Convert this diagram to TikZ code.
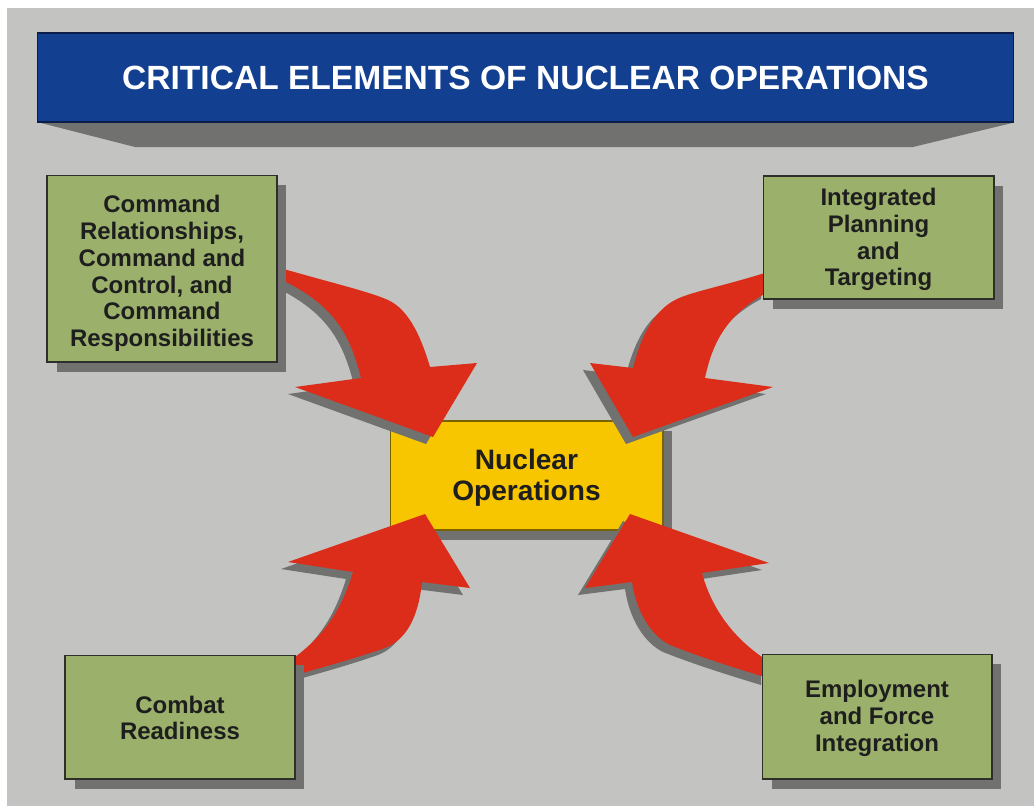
\documentclass[tikz,border=0pt]{standalone}
\usepackage{fontspec}
\setmainfont{Liberation Sans}
\usetikzlibrary{shadows}
\definecolor{bgc}{HTML}{C3C3C1}
\definecolor{titlec}{HTML}{123F8F}
\definecolor{titleline}{HTML}{0B1E4A}
\definecolor{shd}{HTML}{717170}
\definecolor{boxg}{HTML}{9AB06B}
\definecolor{boxline}{HTML}{2E2E2A}
\definecolor{yel}{HTML}{F8C600}
\definecolor{yelline}{HTML}{7A6200}
\definecolor{redc}{HTML}{DB2D1A}
\definecolor{txt}{HTML}{1E1E1E}
\newcommand\arrTL[1]{\fill[#1] (280,268) .. controls (340,285) and (370,292) .. (388,300) .. controls (410,310) and (422,340) .. (430,367) -- (477,363) -- (433,437) -- (295,387) -- (361,378) .. controls (350,335) and (335,305) .. (280,279) -- cycle;}
\newcommand\arrTR[1]{\fill[#1] (768,272) .. controls (720,287) and (690,292) .. (675,300) .. controls (652,312) and (640,340) .. (633,368) -- (590,363) -- (633,437) -- (773,387) -- (705,378) .. controls (712,345) and (725,315) .. (768,292) -- cycle;}
\newcommand\arrBL[1]{\fill[#1] (288,662) .. controls (320,640) and (340,615) .. (353,572) -- (288,562) -- (425,514) -- (470,588) -- (422,582) .. controls (418,620) and (405,640) .. (385,648) .. controls (350,660) and (320,668) .. (288,677) -- cycle;}
\newcommand\arrBR[1]{\fill[#1] (768,661) .. controls (735,640) and (712,610) .. (702,573) -- (769,563) -- (630,514) -- (585,588) -- (632,582) .. controls (636,610) and (650,635) .. (670,645) .. controls (700,657) and (735,668) .. (768,678) -- cycle;}
\begin{document}
\begin{tikzpicture}[x=0.02cm,y=-0.02cm,
  boxshadow/.style={drop shadow={shadow xshift=0.19cm,shadow yshift=-0.2cm,fill=shd,opacity=1}},
  box/.style={fill=boxg,draw=boxline,line width=0.6pt,boxshadow,inner sep=0pt},
  boxtext/.style={inner sep=0pt,align=center,text=txt,font=\bfseries\fontsize{13.65}{15.25}\selectfont},
  hub/.style={fill=yel,draw=yelline,line width=0.6pt,boxshadow,inner sep=0pt},
  hubtext/.style={inner sep=0pt,align=center,text=txt,font=\bfseries\fontsize{16}{17.6}\selectfont},
  titlebox/.style={fill=titlec,draw=titleline,line width=0.6pt,inner sep=0pt,
    text=white,font=\bfseries\fontsize{19.1}{22}\selectfont},
  arrshadow/.style={fill=shd,shift={(-7,7)}},
  arrfill/.style={fill=redc}]
\useasboundingbox (0,0) rectangle (1034,806);
\fill[bgc] (7,8) rectangle (1034,806);
% title
\fill[shd] (41,123) -- (1012,123) -- (913,147) -- (135,147) -- cycle;
\node[titlebox,minimum width=19.54cm,minimum height=1.78cm] (title) at (525.5,77.5) {CRITICAL ELEMENTS OF NUCLEAR OPERATIONS};
% hub
\node[hub,minimum width=5.46cm,minimum height=2.18cm] (hub) at (526.5,475.5) {};
\node[hubtext] (hubtext) at ([yshift=-0.04cm]hub.center) {Nuclear\\Operations};
% arrows
\arrTL{arrshadow}\arrTR{arrshadow}\arrBL{arrshadow}\arrBR{arrshadow}
\arrTL{arrfill}\arrTR{arrfill}\arrBL{arrfill}\arrBR{arrfill}
% outer boxes
\node[box,minimum width=4.6cm,minimum height=3.74cm] (tl) at (162,268.5) {};
\node[boxtext] (tltext) at ([yshift=-0.1cm]tl.center) {Command\\Relationships,\\Command and\\Control, and\\Command\\Responsibilities};
\node[box,minimum width=4.62cm,minimum height=2.46cm] (tr) at (878.5,237.5) {};
\node[boxtext] (trtext) at ([yshift=-0.04cm]tr.center) {Integrated\\Planning\\and\\Targeting};
\node[box,minimum width=4.6cm,minimum height=2.48cm] (bl) at (180,717) {};
\node[boxtext] (bltext) at ([yshift=-0.02cm]bl.center) {Combat\\Readiness};
\node[box,minimum width=4.6cm,minimum height=2.5cm] (br) at (877,716.5) {};
\node[boxtext] (brtext) at ([yshift=-0.04cm]br.center) {Employment\\and Force\\Integration};
\end{tikzpicture}
\end{document}
